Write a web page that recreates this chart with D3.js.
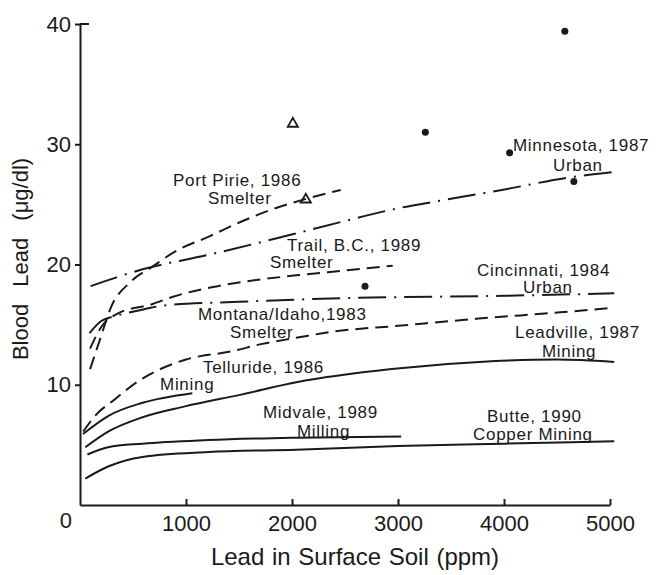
<!DOCTYPE html>
<html>
<head>
<meta charset="utf-8">
<script src="https://cdn.jsdelivr.net/npm/d3@7"></script>
<style>
  body { margin: 0; background: #fff; }
  svg text { font-family: "Liberation Sans", Arial, sans-serif; fill: #1a1a1a; }
</style>
</head>
<body>
<svg id="chart"></svg>
<script>
// Curves: [soil ppm, blood lead ug/dl]
const portPirie = [[95, 11.3], [190, 13.8], [290, 16.4], [470, 18.5], [680, 19.8], [900, 21.1], [1210, 22.3], [1530, 23.6], [1850, 24.7], [2150, 25.5], [2460, 26.2]];
const trail = [[95, 13.0], [200, 14.8], [350, 15.9], [680, 16.7], [870, 17.3], [1300, 18.2], [2040, 19.1], [2500, 19.5], [2950, 19.9]];
const minnesota = [[100, 18.2], [590, 19.6], [1210, 20.8], [1910, 22.3], [2490, 23.6], [2960, 24.6], [3460, 25.4], [3980, 26.2], [4590, 27.2], [5040, 27.7]];
const cincinnati = [[90, 14.3], [200, 15.3], [330, 15.7], [615, 16.3], [800, 16.6], [1500, 16.9], [2500, 17.2], [4000, 17.4], [5040, 17.6]];
const montana = [[30, 6.1], [140, 7.4], [330, 8.8], [550, 10.3], [710, 11.1], [1000, 12.1], [1440, 12.8], [1720, 13.4], [2040, 13.9], [2370, 14.4], [3000, 14.9], [3760, 15.5], [4500, 16.0], [5040, 16.4]];
const telluride = [[28, 5.9], [265, 7.4], [590, 8.5], [1060, 9.3]];
const leadville = [[50, 4.8], [265, 6.1], [590, 7.3], [990, 8.2], [1530, 9.2], [2040, 10.2], [2940, 11.3], [3880, 11.95], [4500, 12.1], [5040, 11.9]];
const midvale = [[70, 4.2], [265, 4.8], [590, 5.1], [1210, 5.4], [2040, 5.6], [3030, 5.7]];
const butte = [[50, 2.2], [265, 3.2], [590, 4.0], [1210, 4.4], [2040, 4.6], [3000, 4.9], [4000, 5.1], [5040, 5.3]];

// Individual data points
const dots = [[4574, 39.4], [3258, 31.0], [4053, 29.3], [4659, 26.9], [2689, 18.2]];
const triangles = [[2008, 31.7], [2130, 25.4]];

const xTicks = [1000, 2000, 3000, 4000, 5000];
const yTicks = [10, 20, 30, 40];

const series = [
  { name: "portPirie", points: portPirie, style: "dash" },
  { name: "trail", points: trail, style: "dash" },
  { name: "minnesota", points: minnesota, style: "dashdot" },
  { name: "cincinnati", points: cincinnati, style: "dashdot" },
  { name: "montana", points: montana, style: "dash" },
  { name: "telluride", points: telluride, style: "solid" },
  { name: "leadville", points: leadville, style: "solid" },
  { name: "midvale", points: midvale, style: "solid" },
  { name: "butte", points: butte, style: "solid" },
];

// Curve labels, anchored in data units
const labels = [
  ["Port Pirie, 1986", 877, 26.5], ["Smelter", 1208, 25.0],
  ["Trail, B.C., 1989", 1953, 21.1], ["Smelter", 1792, 19.7],
  ["Minnesota, 1987", 4085, 29.45], ["Urban", 4462, 27.75],
  ["Cincinnati, 1984", 3745, 19.05], ["Urban", 4179, 17.6],
  ["Montana/Idaho,1983", 1113, 15.4], ["Smelter", 1415, 13.9],
  ["Telluride, 1986", 1160, 11.0], ["Mining", 755, 9.6],
  ["Leadville, 1987", 4104, 13.9], ["Mining", 4358, 12.3],
  ["Midvale, 1989", 1726, 7.2], ["Milling", 2047, 5.65],
  ["Butte, 1990", 3840, 6.9], ["Copper Mining", 3708, 5.4],
];

const width = 658;
const height = 575;

const svg = d3.select("#chart").attr("width", width).attr("height", height);

const x = d3.scaleLinear().domain([0, 5000]).range([80, 610]);
const y = d3.scaleLinear().domain([0, 40]).range([505, 24]);

const ink = "#1a1a1a";
const dashes = { dash: "13,7", dashdot: "28,8,2,8", solid: null };

// Axes
const xAxis = d3.axisBottom(x)
  .tickValues(xTicks)
  .tickFormat(d3.format("d"))
  .tickSizeInner(-6)
  .tickSizeOuter(0)
  .tickPadding(10);
const gx = svg.append("g").attr("transform", `translate(0,${y(0)})`).call(xAxis);
gx.selectAll("text").attr("font-size", 22);

const yAxis = d3.axisLeft(y).tickValues(yTicks).tickSizeInner(5).tickSizeOuter(0).tickPadding(4);
const gy = svg.append("g").attr("transform", `translate(${x(0)},0)`).call(yAxis);
gy.selectAll("text").attr("font-size", 22);

svg.selectAll(".domain, .tick line").attr("stroke", ink).attr("stroke-width", 2);

// top cap of the y axis points inward
svg.append("line")
  .attr("x1", x(0)).attr("x2", x(0) + 9)
  .attr("y1", y(40)).attr("y2", y(40))
  .attr("stroke", ink).attr("stroke-width", 2);

// origin label sits below the corner
svg.append("text")
  .attr("x", x(0) - 8).attr("y", y(0) + 23)
  .attr("text-anchor", "end")
  .attr("font-size", 22)
  .text("0");

// Axis titles
svg.append("text")
  .attr("x", 355).attr("y", 565)
  .attr("text-anchor", "middle")
  .attr("font-size", 24)
  .attr("word-spacing", 1)
  .text("Lead in Surface Soil (ppm)");

svg.append("text")
  .attr("transform", "translate(28,259) rotate(-90)")
  .attr("text-anchor", "middle")
  .attr("font-size", 22)
  .attr("word-spacing", 11)
  .text("Blood Lead (\u03bcg/dl)");

// Curves
const line = d3.line()
  .x((d) => x(d[0]))
  .y((d) => y(d[1]))
  .curve(d3.curveMonotoneX);

svg.selectAll(".curve")
  .data(series)
  .join("path")
  .attr("class", "curve")
  .attr("d", (d) => line(d.points))
  .attr("fill", "none")
  .attr("stroke", ink)
  .attr("stroke-width", 2)
  .attr("stroke-dasharray", (d) => dashes[d.style]);

// Points
svg.selectAll(".dot")
  .data(dots)
  .join("circle")
  .attr("class", "dot")
  .attr("cx", (d) => x(d[0]))
  .attr("cy", (d) => y(d[1]))
  .attr("r", 3.5)
  .attr("fill", ink);

svg.selectAll(".tri")
  .data(triangles)
  .join("path")
  .attr("class", "tri")
  .attr("transform", (d) => `translate(${x(d[0])},${y(d[1])})`)
  .attr("d", d3.symbol(d3.symbolTriangle, 45))
  .attr("fill", "none")
  .attr("stroke", ink)
  .attr("stroke-width", 1.8);

// Labels
svg.selectAll(".lbl")
  .data(labels)
  .join("text")
  .attr("class", "lbl")
  .attr("x", (d) => x(d[1]))
  .attr("y", (d) => y(d[2]))
  .attr("font-size", 17)
  .attr("letter-spacing", 0.7)
  .text((d) => d[0]);
</script>
</body>
</html>
